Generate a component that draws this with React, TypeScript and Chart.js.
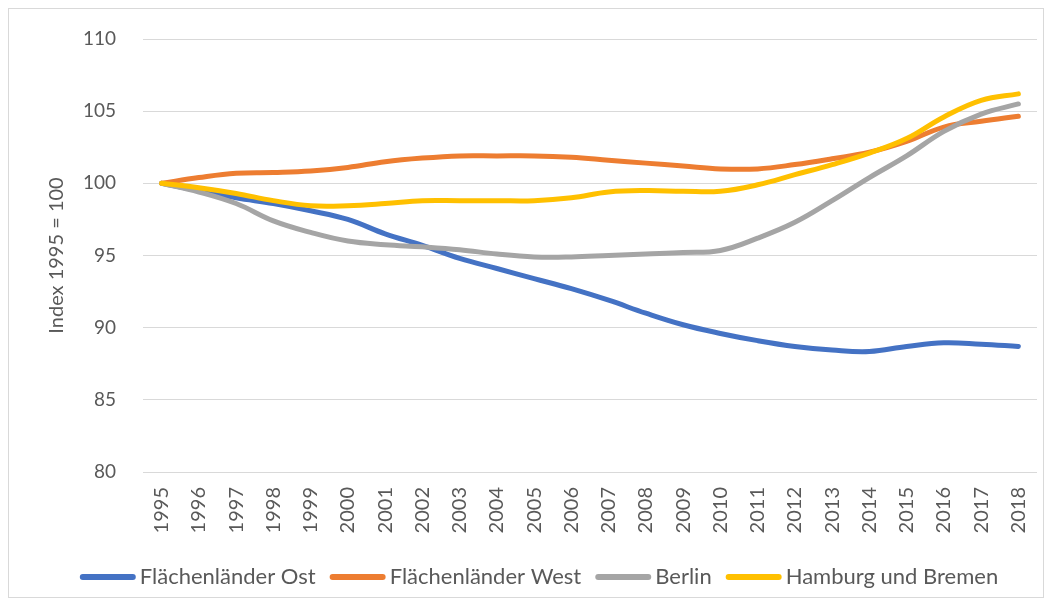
import React, { useEffect, useRef } from "react";
import { Chart, registerables } from "chart.js";

Chart.register(...registerables);

const years = ["1995","1996","1997","1998","1999","2000","2001","2002","2003","2004","2005","2006","2007","2008","2009","2010","2011","2012","2013","2014","2015","2016","2017","2018"];
const ost = [100, 99.5, 99.0, 98.6, 98.1, 97.5, 96.5, 95.7, 94.8, 94.1, 93.4, 92.7, 91.9, 91.0, 90.2, 89.6, 89.1, 88.7, 88.45, 88.35, 88.7, 88.95, 88.85, 88.7];
const west = [100, 100.4, 100.7, 100.75, 100.85, 101.1, 101.5, 101.75, 101.9, 101.9, 101.9, 101.8, 101.6, 101.4, 101.2, 101.0, 101.0, 101.3, 101.7, 102.15, 102.9, 103.9, 104.3, 104.65];
const berlin = [100, 99.4, 98.6, 97.4, 96.6, 96.0, 95.75, 95.6, 95.4, 95.1, 94.9, 94.9, 95.0, 95.1, 95.2, 95.35, 96.2, 97.3, 98.8, 100.4, 101.9, 103.6, 104.8, 105.5];
const hhhb = [100, 99.7, 99.3, 98.8, 98.45, 98.45, 98.6, 98.8, 98.8, 98.8, 98.8, 99.0, 99.4, 99.5, 99.45, 99.45, 99.9, 100.6, 101.3, 102.1, 103.1, 104.6, 105.75, 106.2];

const seriesNames = ["Flächenländer Ost", "Flächenländer West", "Berlin", "Hamburg und Bremen"];
const yTicks = [80, 85, 90, 95, 100, 105, 110];
const yTitle = "Index 1995 = 100";

const colors = ["#4472C4", "#ED7D31", "#A5A5A5", "#FFC000"];
const FONT = "Lato, 'Liberation Sans', sans-serif";
const TXT = "#595959";
const CLEAR = "rgba(0,0,0,0)";

const legendPlugin = {
  id: "lineLegend",
  afterDraw(chart: any) {
    const ctx = chart.ctx;
    const fontSize = 22;
    const boxW = 56;
    const gapText = 4;
    const gapItem = 14;
    ctx.save();
    ctx.font = `${fontSize}px ${FONT}`;
    const items = chart.data.datasets.map((ds: any) => ({
      label: ds.label as string,
      color: ds.borderColor as string,
      w: boxW + gapText + ctx.measureText(ds.label).width,
    }));
    const total = items.reduce((a: number, it: any) => a + it.w, 0) + gapItem * (items.length - 1);
    let x = chart.width / 2 - total / 2 + 13;
    const y = chart.height - 20;
    ctx.textBaseline = "middle";
    ctx.textAlign = "left";
    for (const it of items) {
      ctx.strokeStyle = it.color;
      ctx.lineWidth = 6;
      ctx.lineCap = "round";
      ctx.beginPath();
      ctx.moveTo(x + 3, y);
      ctx.lineTo(x + boxW - 3, y);
      ctx.stroke();
      ctx.fillStyle = TXT;
      ctx.fillText(it.label, x + boxW + gapText, y);
      x += it.w + gapItem;
    }
    ctx.restore();
  },
};

export default function App() {
  const ref = useRef<HTMLCanvasElement | null>(null);
  useEffect(() => {
    if (!ref.current) return;
    const all = [ost, west, berlin, hhhb];
    const chart = new Chart(ref.current, {
      type: "line",
      data: {
        labels: years,
        datasets: all.map((d, i) => ({
          label: seriesNames[i],
          data: d,
          borderColor: colors[i],
          backgroundColor: colors[i],
          borderWidth: 5,
          pointRadius: 0,
          tension: 0.4,
          borderCapStyle: "round" as const,
          borderJoinStyle: "round" as const,
          fill: false,
          order: 4 - i,
        })),
      },
      plugins: [legendPlugin],
      options: {
        animation: false,
        responsive: false,
        maintainAspectRatio: false,
        layout: { padding: { top: 30, right: 6, left: 36, bottom: 52 } },
        plugins: {
          tooltip: { enabled: false },
          legend: { display: false },
        },
        scales: {
          x: {
            offset: true,
            grid: { display: true, drawOnChartArea: false, drawTicks: true, tickLength: 15, tickColor: CLEAR, color: CLEAR },
            border: { display: false },
            ticks: {
              minRotation: 90,
              maxRotation: 90,
              autoSkip: false,
              padding: 0,
              color: TXT,
              font: { family: FONT, size: 20 },
            },
            afterFit: (s: any) => { s.height = 73; },
          },
          y: {
            min: 80,
            max: 110,
            afterBuildTicks: (s: any) => { s.ticks = yTicks.map((v) => ({ value: v })); },
            grid: { color: "#d9d9d9", lineWidth: 1, drawTicks: true, tickLength: 27, tickColor: CLEAR },
            border: { display: false },
            ticks: {
              padding: 0,
              color: TXT,
              font: { family: FONT, size: 19 },
            },
            title: {
              display: true,
              text: yTitle,
              color: TXT,
              font: { family: FONT, size: 20 },
              padding: 0,
            },
            afterFit: (s: any) => { s.width = 98; },
          },
        },
      },
    });
    return () => chart.destroy();
  }, []);
  return (
    <div style={{ width: 1036, height: 590, border: "1px solid #d9d9d9", boxSizing: "border-box", background: "#fff" }}>
      <canvas ref={ref} width={1034} height={588} style={{ display: "block" }} />
    </div>
  );
}
